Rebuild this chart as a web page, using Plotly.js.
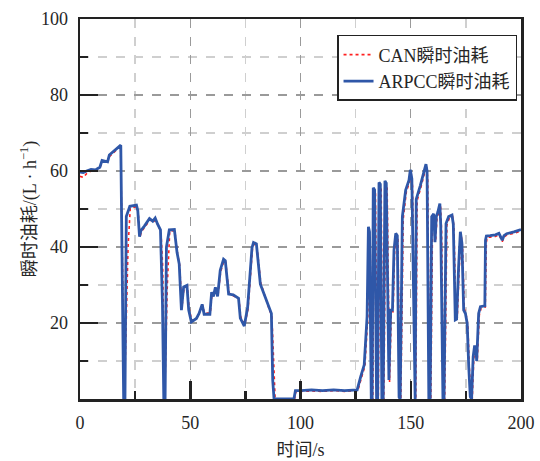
<!DOCTYPE html>
<html>
<head>
<meta charset="utf-8">
<script src="https://cdn.plot.ly/plotly-3.0.1.min.js"></script>
<style>html,body{margin:0;padding:0;background:#fff;}#chart{width:540px;height:461px;}</style>
</head>
<body>
<div id="chart"></div>
<script>
// ARPCC instantaneous fuel consumption (time s, L/h)
const arpccTime = [0,1.5,3,5,7,9,10,12.5,13.3,16.3,18.5,19.8,20.4,21,22.6,25.6,26.2,27,27.6,29.2,31.5,33,34.1,35.2,36.5,37.4,38,38.6,39.2,40.5,42.8,44,45,46,47,48.5,49.3,50.5,52.8,54,55.4,56.3,58.9,59.7,60.5,61.4,62.4,63.6,65.1,65.9,67.4,69.5,71.9,72.7,74.5,76,76.9,78,78.7,80,81.8,84.1,85.9,86.8,87.4,88,97,97.7,100,105,110,115,120,125.7,127.3,128.5,128.9,130.2,130.8,131.3,132.1,132.5,133,133.6,134.5,135,135.6,136.2,136.9,137.5,138.3,138.9,140.1,140.9,141.7,142.4,143.2,143.9,144.7,145.2,146.2,147.7,149.2,149.8,150.5,152,152.5,154.3,156.9,157.4,158.2,158.8,159.5,160.4,161,161.6,162.3,163.2,163.6,164.6,165.1,166,167.2,168.7,169.3,170.2,170.8,171.7,172.5,173.2,174,174.8,175.6,176.3,177,177.6,178.3,178.9,179.5,179.9,180.8,181.6,183.6,183.9,184.3,186,188.4,190,190.8,191.5,192.3,193.5,196.8,199,200];
const arpccFuel = [59.7,59.6,60.0,60.4,60.3,61.0,62.8,62.4,64.2,65.7,66.8,0,0,48,50.7,51.0,49.6,42.7,44.3,45.5,47.5,46.8,47.6,46,44.5,25,0,0,40,44.5,44.6,38.6,35.5,23.4,29.5,29.9,23.4,20.3,21.2,22.5,24.9,22.3,22.3,28.1,27,29.4,27,33.9,36.8,36.4,27.6,27.4,26.5,21.3,19.2,24,31.9,39.8,41.2,40.8,30.2,26.6,23.4,22.5,5,0,0,2.2,2.2,2.4,2.2,2.4,2.2,2.4,5.9,8.1,9,21.7,45.3,44,0,0,55.6,55,0,0,57,56.5,0,0,57.4,56.8,5,23.4,23.4,39.2,43.6,43,0.5,0,48,55,57.6,60.3,58,0,52.6,56.1,61.8,60,0,0,48,48.7,41.3,48,49.2,51.4,45.7,0,0,46.2,48,48.4,46,20.8,21,34.8,44,41,23.4,22.5,19.9,8.5,0.6,0,11.1,13.8,13.8,10,22.5,24.3,24.5,41.8,42.9,43,43.2,43.6,42.5,41.8,43,43.5,44,44.4,44.6];

// CAN instantaneous fuel consumption (time s, L/h)
const canTime = [0,1.5,3,5,7,9,10,12.5,13.3,16.3,18.4,19.4,20.1,21.8,22.8,25.6,26.4,27.2,27.8,29.4,31.7,33.2,34.3,35.4,36.7,37.5,38.4,39.6,40.7,43,44.2,45.2,46.2,47.2,48.7,49.5,50.7,53,54.2,55.6,56.5,59.1,59.9,60.7,61.6,62.6,63.8,65.3,66.1,67.6,69.7,72.1,72.9,74.7,76.2,77.1,78.2,78.9,80.2,82,84.3,86.1,87,87.8,88.5,97.3,98,100,105,110,115,120,126,127.6,128.8,129.2,130.5,131.1,131.6,132.4,132.8,133.4,134,134.8,135.3,136,136.6,137.2,137.8,138.7,139.3,140.4,141.2,142,142.7,143.5,144.2,145,145.5,146.6,148,149.5,150.1,150.8,152.3,152.9,154.6,157.1,157.7,158.5,159.1,159.9,160.7,161.3,161.9,162.6,163.5,164,164.9,165.4,166.4,167.5,169,169.6,170.5,171.1,172,172.8,173.5,174.3,175.1,175.9,176.6,177.3,177.9,178.6,179.2,179.8,180.2,181.1,181.9,183.8,184.3,184.7,186,188.4,190,190.8,191.5,192.3,193.5,196.8,199,200];
const canFuel = [58.6,58.3,59.3,60.0,60.1,60.8,62.5,62.2,63.8,65.4,66.5,30,0,40,50.2,50.6,49,42.5,44,45.2,47.2,46.5,47.3,45.6,44.2,35,0,30,44.2,44.3,38.3,35.2,24,29.2,29.6,23.8,20.6,21.4,22.7,24.6,22.6,22.6,27.8,27.2,29.1,27.3,33.5,36.4,36,27.9,27.1,26.2,21.6,19.5,23.6,31.5,39.4,40.8,40.4,30.5,26.3,23.1,22.2,10,0,0,2,2,2.1,2.0,2.2,2.0,2.2,5.5,7.8,8.6,21.2,44.8,40,0,0,55.2,54.2,0,0,56.5,55.8,0,0,56.8,55.5,4.5,23,23,38.8,43.2,42,0,0,47.4,54.5,57.2,59.8,56,0,52.2,55.7,61.3,58,0,0,47.5,48.3,41.6,47.6,48.8,51,44,0,0,45.8,47.6,48,45.2,21.2,21.4,34.4,43.6,40,23.8,22.2,19.5,8,0.4,0,10.6,13.4,13.4,10.4,22.1,23.9,24.2,41.3,42.5,42.6,42.8,43.2,42.1,41.4,42.6,43.1,43.6,44,44.2];

const xTicks = [0,50,100,150,200];
const xMinor = [25,75,125,175];
const yTicks = [20,40,60,80,100];
const yMinor = [10,30,50,70,90];
const seriesNames = ['CAN瞬时油耗','ARPCC瞬时油耗'];

const fontFam = 'Liberation Serif, Noto Sans CJK SC, serif';
const axisCol = '#222222';

const traces = [
  {x: canTime, y: canFuel, name: seriesNames[0], type: 'scatter', mode: 'lines',
   line: {color: '#ff2020', width: 1.6, dash: 'dot'}},
  {x: arpccTime, y: arpccFuel, name: seriesNames[1], type: 'scatter', mode: 'lines',
   line: {color: '#2f57a8', width: 2.8}}
];

function axisBase(ticks, minor, range) {
  return {
    range: range, tickmode: 'array', tickvals: ticks,
    ticks: 'inside', ticklen: 18, tickwidth: 2.5, tickcolor: axisCol,
    showline: true, linecolor: axisCol, linewidth: 2.5, mirror: true,
    showgrid: true, gridcolor: '#9a9a9a', griddash: 'dash', gridwidth: 1.3,
    zeroline: false,
    minor: {tickmode: 'array', tickvals: minor, ticks: 'inside', ticklen: 8, tickwidth: 2.5,
            tickcolor: axisCol, showgrid: true, gridcolor: '#cfcfcf', griddash: 'dash', gridwidth: 1.3},
    tickfont: {family: fontFam, size: 18, color: '#262626'},
    ticklabelstandoff: 6
  };
}

const xaxis = axisBase(xTicks, xMinor, [0, 200]);
xaxis.title = {text: '时间/s', font: {family: fontFam, size: 18, color: '#262626'}, standoff: 12};
const yaxis = axisBase(yTicks, yMinor, [0, 100]);
yaxis.title = {text: '瞬时油耗/(L · h<sup>−1</sup>)', font: {family: fontFam, size: 18, color: '#262626'}, standoff: 0};

const layout = {
  width: 540, height: 461,
  margin: {l: 80, r: 19, t: 19, b: 62},
  paper_bgcolor: '#ffffff', plot_bgcolor: '#ffffff',
  showlegend: true,
  legend: {x: 0.991, xanchor: 'right', y: 0.958, yanchor: 'top',
           bgcolor: '#ffffff', bordercolor: '#222222', borderwidth: 1.5,
           font: {family: fontFam, size: 18, color: '#262626'}, tracegroupgap: 0},
  xaxis: xaxis, yaxis: yaxis
};

Plotly.newPlot('chart', traces, layout, {staticPlot: true, displayModeBar: false});
</script>
</body>
</html>
